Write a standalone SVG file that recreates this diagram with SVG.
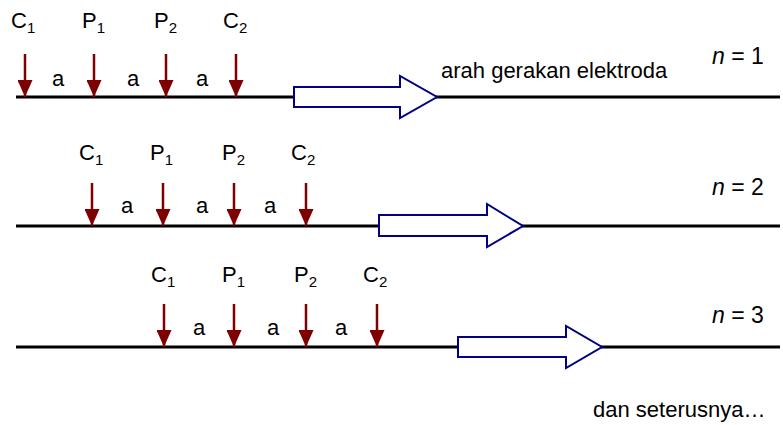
<svg xmlns="http://www.w3.org/2000/svg" width="783" height="425" viewBox="0 0 783 425">
  <style>
    text { font-family: "Liberation Sans", Arial, sans-serif; font-size: 22px; fill: #000; }
    .sub { font-size: 15px; }
    .mid { text-anchor: middle; }
    .n { font-style: italic; }
    .nlabel { font-size: 23px; }
    .ground { stroke: #000; stroke-width: 3; fill: none; }
    .probe { stroke: #7f0000; stroke-width: 2.5; fill: none; marker-end: url(#head); }
    .move { fill: #fff; stroke: #000080; stroke-width: 2; stroke-linejoin: miter; }
  </style>
  <defs>
    <marker id="head" viewBox="0 0 17 15" refX="17" refY="7.5" markerWidth="17" markerHeight="15" markerUnits="userSpaceOnUse" orient="auto">
      <path d="M0,0 L17,7.5 L0,15 Z" fill="#7f0000"/>
    </marker>
  </defs>

  <!-- ground surface lines -->
  <g id="ground">
    <line class="ground" x1="16" y1="97" x2="780" y2="97"/>
    <line class="ground" x1="16" y1="226" x2="780" y2="226"/>
    <line class="ground" x1="16" y1="347" x2="780" y2="347"/>
  </g>

  <!-- direction of electrode movement -->
  <g id="move-1"><polygon class="move" points="294,87 400,87 400,76 437,97 400,118 400,107 294,107"/></g>
  <g id="move-2"><polygon class="move" points="379,215 487,215 487,204 523,226 487,247 487,236 379,236"/></g>
  <g id="move-3"><polygon class="move" points="458,337 566,337 566,326 602,347 566,368 566,357 458,357"/></g>

  <!-- electrode arrows -->
  <g id="connectors">
    <path class="probe" d="M25,54 V97"/>
    <path class="probe" d="M94,54 V97"/>
    <path class="probe" d="M166,54 V97"/>
    <path class="probe" d="M236,54 V97"/>

    <path class="probe" d="M92,183 V226"/>
    <path class="probe" d="M163,183 V226"/>
    <path class="probe" d="M234,183 V226"/>
    <path class="probe" d="M306,183 V226"/>

    <path class="probe" d="M164,304 V347"/>
    <path class="probe" d="M234,304 V347"/>
    <path class="probe" d="M306,304 V347"/>
    <path class="probe" d="M377,304 V347"/>
  </g>

  <!-- n = 1 -->
  <g id="row-1">
    <g id="r1-c1"><text x="11" y="28">C<tspan class="sub" dy="5">1</tspan></text></g>
    <g id="r1-p1"><text x="82" y="28">P<tspan class="sub" dy="5">1</tspan></text></g>
    <g id="r1-p2"><text x="154" y="28">P<tspan class="sub" dy="5">2</tspan></text></g>
    <g id="r1-c2"><text x="223" y="28">C<tspan class="sub" dy="5">2</tspan></text></g>
    <text class="mid" x="58" y="86">a</text>
    <text class="mid" x="133" y="86">a</text>
    <text class="mid" x="202" y="86">a</text>
    <text x="441" y="78">arah gerakan elektroda</text>
    <text class="nlabel" x="712" y="64"><tspan class="n">n</tspan> = 1</text>
  </g>

  <!-- n = 2 -->
  <g id="row-2">
    <g id="r2-c1"><text x="79" y="160">C<tspan class="sub" dy="5">1</tspan></text></g>
    <g id="r2-p1"><text x="150" y="160">P<tspan class="sub" dy="5">1</tspan></text></g>
    <g id="r2-p2"><text x="222" y="160">P<tspan class="sub" dy="5">2</tspan></text></g>
    <g id="r2-c2"><text x="291" y="160">C<tspan class="sub" dy="5">2</tspan></text></g>
    <text class="mid" x="127" y="213">a</text>
    <text class="mid" x="202" y="213">a</text>
    <text class="mid" x="270" y="213">a</text>
    <text class="nlabel" x="712" y="195"><tspan class="n">n</tspan> = 2</text>
  </g>

  <!-- n = 3 -->
  <g id="row-3">
    <g id="r3-c1"><text x="151" y="282">C<tspan class="sub" dy="5">1</tspan></text></g>
    <g id="r3-p1"><text x="222" y="282">P<tspan class="sub" dy="5">1</tspan></text></g>
    <g id="r3-p2"><text x="294" y="282">P<tspan class="sub" dy="5">2</tspan></text></g>
    <g id="r3-c2"><text x="363" y="282">C<tspan class="sub" dy="5">2</tspan></text></g>
    <text class="mid" x="199" y="335">a</text>
    <text class="mid" x="273" y="335">a</text>
    <text class="mid" x="341" y="335">a</text>
    <text class="nlabel" x="712" y="323"><tspan class="n">n</tspan> = 3</text>
  </g>

  <text x="593" y="417">dan seterusnya…</text>
</svg>
